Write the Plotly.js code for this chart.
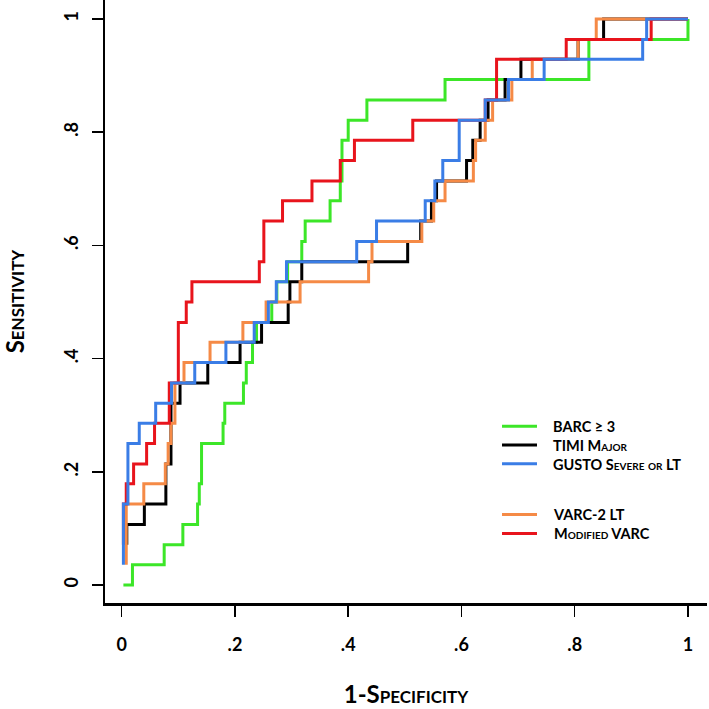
<!DOCTYPE html>
<html>
<head>
<meta charset="utf-8">
<script src="https://cdn.plot.ly/plotly-3.0.1.min.js"></script>
<style>html,body{margin:0;padding:0;background:#fff;}#chart{width:709px;height:709px;}</style>
</head>
<body>
<div id="chart"></div>
<script>
// ROC step curves: 1-specificity (x) and sensitivity (y)
const barcX   = [0.003, 0.019, 0.075, 0.108, 0.134, 0.137, 0.141, 0.179, 0.182, 0.215, 0.220, 0.231, 0.238, 0.265, 0.274, 0.293, 0.318, 0.324, 0.368, 0.386, 0.389, 0.400, 0.433, 0.571, 0.825, 1];
const barcY   = [0, 0.036, 0.071, 0.107, 0.143, 0.179, 0.250, 0.286, 0.321, 0.357, 0.393, 0.429, 0.464, 0.500, 0.536, 0.571, 0.607, 0.643, 0.679, 0.714, 0.786, 0.821, 0.857, 0.893, 0.964, 1];

const timiX   = [0.009, 0.009, 0.040, 0.078, 0.087, 0.103, 0.152, 0.209, 0.247, 0.294, 0.297, 0.318, 0.505, 0.528, 0.547, 0.556, 0.609, 0.620, 0.633, 0.647, 0.677, 0.705, 0.806, 0.851, 1];
const timiY   = [0.071, 0.107, 0.143, 0.214, 0.321, 0.357, 0.393, 0.429, 0.464, 0.500, 0.536, 0.571, 0.607, 0.643, 0.679, 0.714, 0.750, 0.786, 0.821, 0.857, 0.893, 0.929, 0.964, 1, 1];

const gustoX  = [0.003, 0.003, 0.011, 0.031, 0.060, 0.088, 0.129, 0.184, 0.234, 0.259, 0.273, 0.291, 0.415, 0.450, 0.536, 0.553, 0.567, 0.596, 0.642, 0.683, 0.746, 0.920, 0.927, 1];
const gustoY  = [0.036, 0.143, 0.250, 0.286, 0.321, 0.357, 0.393, 0.429, 0.464, 0.500, 0.536, 0.571, 0.607, 0.643, 0.679, 0.714, 0.750, 0.821, 0.857, 0.893, 0.929, 0.964, 1, 1];

const varc2X  = [0.008, 0.008, 0.039, 0.077, 0.082, 0.087, 0.094, 0.110, 0.156, 0.214, 0.255, 0.315, 0.436, 0.442, 0.530, 0.551, 0.571, 0.621, 0.625, 0.642, 0.655, 0.689, 0.725, 0.806, 0.838, 1];
const varc2Y  = [0.036, 0.143, 0.179, 0.214, 0.250, 0.286, 0.357, 0.393, 0.429, 0.464, 0.500, 0.536, 0.571, 0.607, 0.643, 0.679, 0.714, 0.750, 0.786, 0.821, 0.857, 0.893, 0.929, 0.964, 1, 1];

const modvarcX = [0.003, 0.003, 0.008, 0.021, 0.044, 0.058, 0.084, 0.100, 0.114, 0.124, 0.243, 0.251, 0.284, 0.336, 0.386, 0.411, 0.514, 0.642, 0.662, 0.785, 0.935, 1];
const modvarcY = [0.071, 0.143, 0.179, 0.214, 0.250, 0.286, 0.357, 0.464, 0.500, 0.536, 0.571, 0.643, 0.679, 0.714, 0.750, 0.786, 0.821, 0.857, 0.929, 0.964, 1, 1];

const tickVals = [0, 0.2, 0.4, 0.6, 0.8, 1];
const tickText = ['0', '.2', '.4', '.6', '.8', '1'];

// legend, in display order: two groups separated by a blank gap
const legendGroupA = ['BARC ≥ 3', 'TIMI Major', 'GUSTO Severe or LT'];
const legendColorsA = ['#3ce628', '#000000', '#3a7de6'];
const legendGroupB = ['VARC-2 LT', 'Modified VARC'];
const legendColorsB = ['#f58a46', '#e8141c'];

const FONT = 'Lato, "Open Sans", sans-serif';

function step(name, x, y, color) {
  return {
    type: 'scatter', mode: 'lines', name: name, x: x, y: y,
    line: {color: color, width: 3, shape: 'hv'},
    hoverinfo: 'skip', showlegend: false
  };
}

const traces = [
  step(legendGroupA[0], barcX, barcY, legendColorsA[0]),
  step(legendGroupA[1], timiX, timiY, legendColorsA[1]),
  step(legendGroupB[0], varc2X, varc2Y, legendColorsB[0]),
  step(legendGroupB[1], modvarcX, modvarcY, legendColorsB[1]),
  step(legendGroupA[2], gustoX, gustoY, legendColorsA[2])
];

// manual legend layout (paper coordinates)
const LEG_FONT = 14.5;
const rowH = LEG_FONT * 1.3 / 603;           // one text line, in paper units
const groupACenter = 0.262, groupBCenter = 0.131;
const legX0 = 0.6595, legX1 = 0.7176, legTextX = 0.7420;
const shapes = [], annotations = [];
function addGroup(names, colors, center) {
  const n = names.length;
  names.forEach(function (nm, i) {
    const y = center + ((n - 1) / 2 - i) * rowH;
    shapes.push({type: 'line', xref: 'paper', yref: 'paper',
      x0: legX0, x1: legX1, y0: y, y1: y,
      line: {color: colors[i], width: 3}});
  });
  annotations.push({xref: 'paper', yref: 'paper', x: legTextX, y: center,
    xanchor: 'left', yanchor: 'middle', align: 'left', showarrow: false, borderpad: 0,
    text: names.join('<br>'),
    font: {family: FONT, size: LEG_FONT, color: '#000', weight: 'bold', variant: 'small-caps'}});
}
addGroup(legendGroupA, legendColorsA, groupACenter);
addGroup(legendGroupB, legendColorsB, groupBCenter);

const axisBase = {
  showline: true, linewidth: 2.5, linecolor: '#000',
  ticks: 'outside', ticklen: 11, tickwidth: 1.5, tickcolor: '#000',
  tickvals: tickVals, ticktext: tickText,
  showgrid: false, zeroline: false, fixedrange: true,
  tickfont: {family: FONT, size: 18, color: '#000', weight: 'bold'}
};

const layout = {
  width: 709, height: 709,
  margin: {l: 105, r: 2, t: 0, b: 106},
  paper_bgcolor: '#fff', plot_bgcolor: '#fff',
  showlegend: false,
  xaxis: Object.assign({}, axisBase, {
    range: [-0.0295, 1.0336],
    ticklabelstandoff: 13,
    title: {text: '1-Specificity', standoff: 32,
            font: {family: FONT, size: 24, color: '#000', weight: 'bold', variant: 'small-caps'}}
  }),
  yaxis: Object.assign({}, axisBase, {
    range: [-0.0318, 1.0336],
    tickangle: -90,
    ticklabelstandoff: 6,
    title: {text: 'Sensitivity', standoff: 30,
            font: {family: FONT, size: 24, color: '#000', weight: 'bold', variant: 'small-caps'}}
  }),
  shapes: shapes,
  annotations: annotations
};

Plotly.newPlot('chart', traces, layout, {staticPlot: true, displayModeBar: false});
</script>
</body>
</html>
